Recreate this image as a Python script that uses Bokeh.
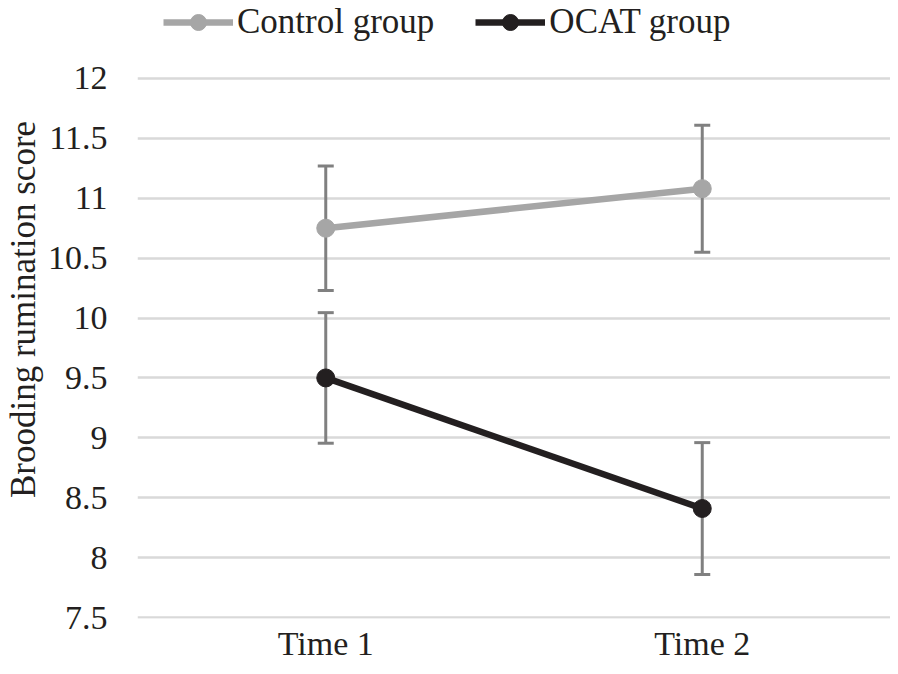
from bokeh.plotting import figure
from bokeh.models import (FactorRange, Range1d, FixedTicker, NumeralTickFormatter,
                          ColumnDataSource, Whisker, TeeHead, Legend, LegendItem)
from bokeh.embed import file_html
from bokeh.resources import INLINE

times = ["Time 1", "Time 2"]
control_mean = [10.75, 11.08]
control_err = [0.52, 0.53]
ocat_mean = [9.50, 8.41]
ocat_err = [0.545, 0.55]
y_ticks = [7.5, 8, 8.5, 9, 9.5, 10, 10.5, 11, 11.5, 12]

FONT = "Liberation Serif"
TXT = "#231F20"
GRAY = "#A6A6A6"
DARK = "#231F20"
ERR = "#808080"
GRID = "#D9D9D9"

W, H = 890, 666
LEFT, BOTTOM = 137, 48

# frame spans from the figure top to the bottom border; the y range is extended above 12
# so that the legend sits inside the frame (no tick or grid above 12)
p = figure(width=W, height=H, x_range=FactorRange(*times, range_padding=0),
           y_range=Range1d(7.4917, 12.651), output_backend="svg", toolbar_location=None,
           min_border_left=LEFT, min_border_right=0, min_border_top=0, min_border_bottom=BOTTOM)
p.outline_line_color = None
p.background_fill_color = "white"
p.border_fill_color = "white"

p.xgrid.grid_line_color = None
p.ygrid.grid_line_color = None
p.hspan(y=y_ticks, line_color=GRID, line_width=2.5, level="underlay")

p.yaxis.ticker = FixedTicker(ticks=y_ticks)
p.yaxis.formatter = NumeralTickFormatter(format="0.[0]")

for ax in (p.xaxis[0], p.yaxis[0]):
    ax.axis_line_color = None
    ax.major_tick_line_color = None
    ax.minor_tick_line_color = None
    ax.major_tick_out = 0
    ax.major_tick_in = 0
    ax.major_label_text_font = FONT
    ax.major_label_text_font_size = "34px"
    ax.major_label_text_color = TXT
    ax.axis_label_text_font = FONT
    ax.axis_label_text_font_size = "35px"
    ax.axis_label_text_font_style = "normal"
    ax.axis_label_text_color = TXT

p.yaxis.axis_label = "Brooding rumination score"
p.yaxis.major_label_standoff = 30
p.yaxis.axis_label_standoff = 2
p.xaxis.major_label_standoff = 6

for mean, err in ((control_mean, control_err), (ocat_mean, ocat_err)):
    src = ColumnDataSource(dict(x=times, lo=[m - e for m, e in zip(mean, err)],
                                hi=[m + e for m, e in zip(mean, err)]))
    w = Whisker(base="x", lower="lo", upper="hi", source=src, line_color=ERR, line_width=3,
                upper_head=TeeHead(size=16, line_color=ERR, line_width=3),
                lower_head=TeeHead(size=16, line_color=ERR, line_width=3))
    p.add_layout(w)

src_c = ColumnDataSource(dict(x=times, y=control_mean))
src_o = ColumnDataSource(dict(x=times, y=ocat_mean))
lc = p.line("x", "y", source=src_c, line_color=GRAY, line_width=6.5)
mc = p.scatter("x", "y", source=src_c, size=18, fill_color=GRAY, line_color=GRAY)
lo = p.line("x", "y", source=src_o, line_color=DARK, line_width=6.5)
mo = p.scatter("x", "y", source=src_o, size=18, fill_color=DARK, line_color=DARK)

frame_h = H - BOTTOM
legend = Legend(items=[LegendItem(label="Control group", renderers=[lc, mc]),
                       LegendItem(label="OCAT group", renderers=[lo, mo])],
                orientation="horizontal", location=(26, frame_h - 42),
                label_text_font=FONT, label_text_font_size="35px", label_text_color=TXT,
                glyph_width=70, glyph_height=40, label_standoff=4, spacing=41,
                padding=0, margin=0, border_line_color=None, background_fill_alpha=0)
p.add_layout(legend, "center")

open("out.html", "w").write(file_html(p, INLINE))
